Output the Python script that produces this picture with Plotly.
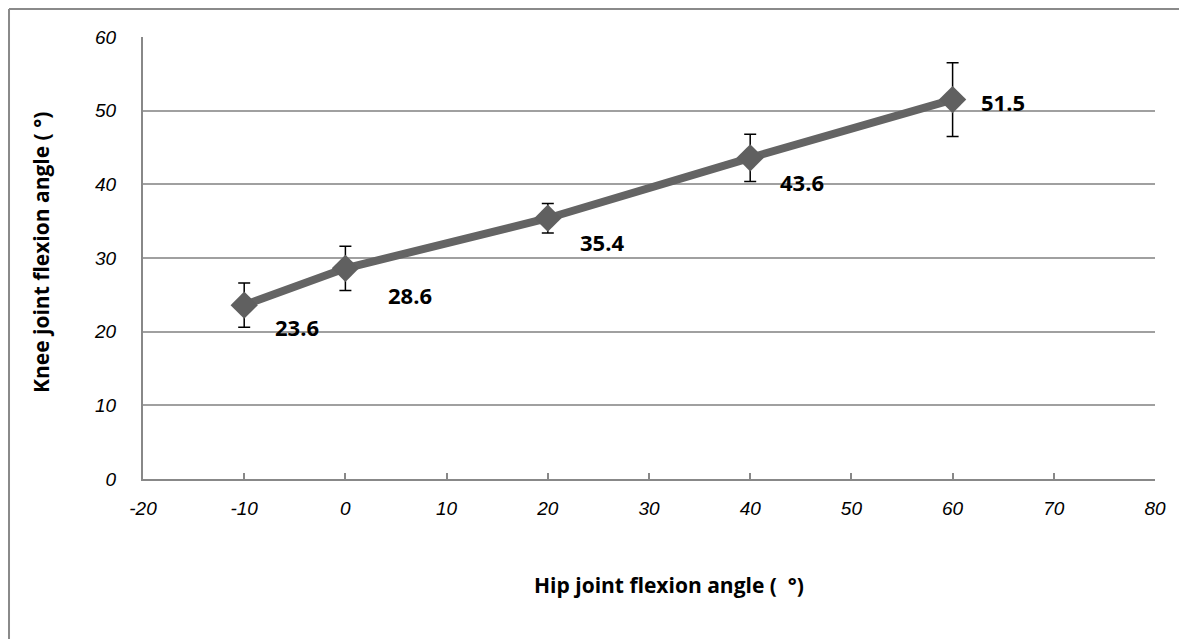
import plotly.graph_objects as go

hip = [-10, 0, 20, 40, 60]
knee = [23.6, 28.6, 35.4, 43.6, 51.5]
err = [3.0, 3.0, 2.0, 3.2, 5.0]
labels = ["23.6", "28.6", "35.4", "43.6", "51.5"]
label_dx = [29, 41, 30, 28, 26]
label_dy = [-22, -27, -24, -24, -2]
x_ticks = [-20, -10, 0, 10, 20, 30, 40, 50, 60, 70, 80]
y_ticks = [0, 10, 20, 30, 40, 50, 60]

fig = go.Figure()
fig.add_trace(go.Scatter(
    x=hip, y=knee, mode="lines+markers",
    line=dict(color="#646464", width=8),
    marker=dict(symbol="diamond", size=21, color="#606060"),
    error_y=dict(type="data", array=err, visible=True, color="black", thickness=1.5, width=6),
    showlegend=False,
))

for xv, yv, t, dx, dy in zip(hip, knee, labels, label_dx, label_dy):
    fig.add_annotation(x=xv, y=yv, text="<b>" + t + "</b>", showarrow=False,
                       xanchor="left", yanchor="middle", xshift=dx, yshift=dy,
                       font=dict(family="Open Sans", size=22, color="black"))

tick_font = dict(family="Liberation Sans", size=19, color="#000000", style="italic")

fig.update_xaxes(range=[-20, 80], tickvals=x_ticks, ticktext=[str(v) for v in x_ticks],
                 showgrid=False, zeroline=False, showline=True, linecolor="#888888", linewidth=2,
                 ticks="inside", ticklen=6, tickcolor="#888888", tickwidth=2,
                 tickfont=tick_font, ticklabelstandoff=11)
fig.update_yaxes(range=[0, 60], tickvals=y_ticks, ticktext=[str(v) for v in y_ticks],
                 showgrid=True, gridcolor="#a0a0a0", gridwidth=1.5, zeroline=False,
                 showline=True, linecolor="#888888", linewidth=2,
                 tickfont=tick_font, ticklabelstandoff=21)

fig.add_annotation(xref="paper", yref="paper", x=0.5, xshift=20, y=0, yshift=-106, showarrow=False,
                   text="<b>Hip joint flexion angle (  °)</b>", xanchor="center", yanchor="middle",
                   font=dict(family="Open Sans", size=21, color="black"))
fig.add_annotation(xref="paper", yref="paper", x=0, xshift=-102, y=0.5, yshift=5, showarrow=False,
                   text="<b>Knee joint flexion angle ( °)</b>", textangle=-90,
                   xanchor="center", yanchor="middle",
                   font=dict(family="Open Sans", size=21, color="black"))

# outer chart border (top and left visible)
fig.add_shape(type="line", xref="paper", yref="paper", x0=-0.1324, x1=-0.1324, y0=-0.5, y1=1.0633,
              line=dict(color="#8a8a8a", width=2))
fig.add_shape(type="line", xref="paper", yref="paper", x0=-0.1324, x1=1.2, y0=1.0633, y1=1.0633,
              line=dict(color="#8a8a8a", width=2))

fig.update_layout(width=1187, height=639, margin=dict(l=135, r=40, t=29, b=168),
                  plot_bgcolor="white", paper_bgcolor="white")
fig.write_html("out.html")
